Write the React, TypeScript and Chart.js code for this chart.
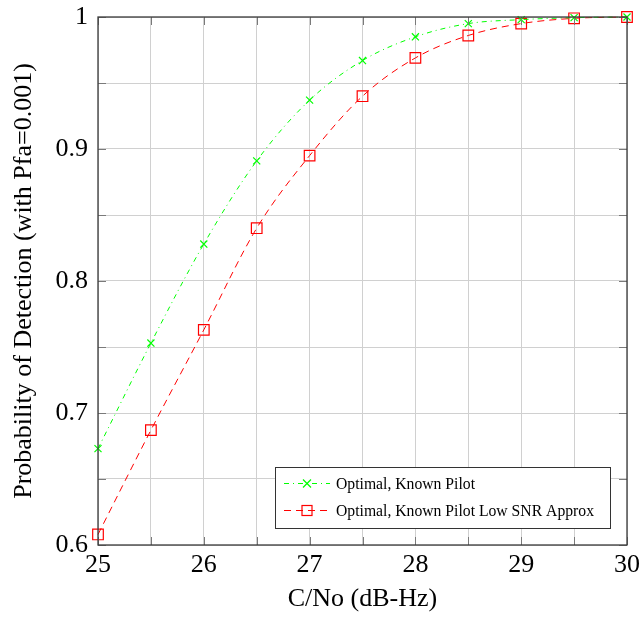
import React, { useEffect, useRef } from "react";
import { Chart, registerables } from "chart.js";

Chart.register(...registerables);

const cnoValues = [25, 25.5, 26, 26.5, 27, 27.5, 28, 28.5, 29, 29.5, 30];
const knownPilot = [0.673, 0.753, 0.828, 0.891, 0.937, 0.967, 0.985, 0.995, 0.998, 0.9995, 1.0];
const lowSnrApprox = [0.608, 0.687, 0.763, 0.840, 0.895, 0.940, 0.969, 0.986, 0.995, 0.999, 1.0];
const seriesLabels = ["Optimal, Known Pilot", "Optimal, Known Pilot Low SNR Approx"];
const xTitle = "C/No (dB-Hz)";
const yTitle = "Probability of Detection (with Pfa=0.001)";

const FONT = "'Liberation Serif', 'DejaVu Serif', serif";
const GREEN = "#00ff00";
const RED = "#ff0000";
const GREEN_DASH = [5, 4, 1, 4];
const RED_DASH = [7, 5];

const framePlugin = {
  id: "frameAndLegend",
  afterDraw(chart: any) {
    const { ctx, chartArea } = chart;
    const { left, right, top, bottom } = chartArea;
    const xs = chart.scales.x;
    const ys = chart.scales.y;
    ctx.save();
    // inward ticks
    ctx.strokeStyle = "#7a7a7a";
    ctx.lineWidth = 1;
    ctx.beginPath();
    for (let v = 25; v <= 30.001; v += 0.5) {
      const px = Math.round(xs.getPixelForValue(v)) + 0.5;
      ctx.moveTo(px, bottom);
      ctx.lineTo(px, bottom - 8);
      ctx.moveTo(px, top);
      ctx.lineTo(px, top + 8);
    }
    for (let v = 0.6; v <= 1.0001; v += 0.05) {
      const py = Math.round(ys.getPixelForValue(v)) + 0.5;
      ctx.moveTo(left, py);
      ctx.lineTo(left + 8, py);
      ctx.moveTo(right, py);
      ctx.lineTo(right - 8, py);
    }
    ctx.stroke();
    // frame
    ctx.strokeStyle = "#3a3a3a";
    ctx.lineWidth = 1.3;
    ctx.strokeRect(left, top, right - left, bottom - top);

    // legend
    const bx = 275, by = 467, bw = 335, bh = 61;
    ctx.fillStyle = "#ffffff";
    ctx.fillRect(bx, by, bw, bh);
    ctx.strokeStyle = "#333333";
    ctx.lineWidth = 1;
    ctx.strokeRect(bx + 0.5, by + 0.5, bw, bh);
    const rows = [
      { y: 483.5, color: GREEN, dash: GREEN_DASH, marker: "x", label: seriesLabels[0] },
      { y: 510.5, color: RED, dash: RED_DASH, marker: "sq", label: seriesLabels[1] },
    ];
    ctx.font = `15.7px ${FONT}`;
    ctx.textBaseline = "middle";
    for (const r of rows) {
      ctx.strokeStyle = r.color;
      ctx.lineWidth = 1;
      ctx.setLineDash(r.dash);
      ctx.beginPath();
      ctx.moveTo(284, r.y);
      ctx.lineTo(330, r.y);
      ctx.stroke();
      ctx.setLineDash([]);
      ctx.lineWidth = 1.2;
      ctx.beginPath();
      const mx = 307;
      if (r.marker === "x") {
        ctx.moveTo(mx - 4, r.y - 4);
        ctx.lineTo(mx + 4, r.y + 4);
        ctx.moveTo(mx - 4, r.y + 4);
        ctx.lineTo(mx + 4, r.y - 4);
        ctx.stroke();
      } else {
        ctx.strokeRect(mx - 5, r.y - 5, 10, 10);
      }
      ctx.fillStyle = "#000000";
      ctx.fillText(r.label, 336, r.y + 1);
    }
    ctx.restore();
  },
};

export default function App() {
  const ref = useRef<HTMLCanvasElement>(null);
  useEffect(() => {
    if (!ref.current) return;
    const chart = new Chart(ref.current, {
      type: "line",
      data: {
        datasets: [
          {
            label: seriesLabels[0],
            data: cnoValues.map((x, i) => ({ x, y: knownPilot[i] })),
            borderColor: GREEN,
            backgroundColor: "transparent",
            borderWidth: 1,
            borderDash: GREEN_DASH,
            pointStyle: "crossRot",
            pointRadius: 5,
            pointBorderWidth: 1.2,
            pointBorderColor: GREEN,
            cubicInterpolationMode: "monotone",
            clip: false as any,
          },
          {
            label: seriesLabels[1],
            data: cnoValues.map((x, i) => ({ x, y: lowSnrApprox[i] })),
            borderColor: RED,
            backgroundColor: "transparent",
            borderWidth: 1,
            borderDash: RED_DASH,
            pointStyle: "rect",
            pointRadius: 7.5,
            pointBorderWidth: 1.2,
            pointBorderColor: RED,
            pointBackgroundColor: "transparent",
            cubicInterpolationMode: "monotone",
            clip: false as any,
          },
        ],
      },
      options: {
        responsive: false,
        animation: false,
        layout: { padding: { left: 0, right: 15, top: 17, bottom: 0 } },
        plugins: { legend: { display: false }, tooltip: { enabled: false } },
        scales: {
          x: {
            type: "linear",
            min: 25,
            max: 30,
            afterFit: (s: any) => {
              s.height = 72;
              s.paddingLeft = 0;
              s.paddingRight = 0;
            },
            grid: { color: "#d0d0d0", lineWidth: 1, drawTicks: false },
            border: { display: false },
            ticks: {
              stepSize: 0.5,
              padding: 5,
              color: "#000",
              font: { family: FONT, size: 26 },
              autoSkip: false,
              maxRotation: 0,
              callback: (v: any) => (Math.abs(v - Math.round(v)) < 1e-6 ? String(Math.round(v)) : ""),
            },
            title: {
              display: true,
              text: xTitle,
              color: "#000",
              font: { family: FONT, size: 26 },
              padding: { top: 0, bottom: 2 },
            },
          },
          y: {
            type: "linear",
            min: 0.6,
            max: 1,
            afterFit: (s: any) => {
              s.width = 98;
              s.paddingTop = 0;
              s.paddingBottom = 0;
            },
            grid: { color: "#d0d0d0", lineWidth: 1, drawTicks: false },
            border: { display: false },
            ticks: {
              stepSize: 0.05,
              padding: 10,
              color: "#000",
              font: { family: FONT, size: 26 },
              autoSkip: false,
              callback: (v: any) => {
                const t = v * 10;
                if (Math.abs(t - Math.round(t)) > 1e-6) return "";
                const r = Math.round(t) / 10;
                return r === 1 ? "1" : r.toFixed(1);
              },
            },
            title: {
              display: true,
              text: yTitle,
              color: "#000",
              font: { family: FONT, size: 26 },
              padding: { top: 9, bottom: 0 },
            },
          },
        },
      },
      plugins: [framePlugin],
    } as any);
    return () => chart.destroy();
  }, []);
  return (
    <div style={{ position: "absolute", left: 0, top: 0, width: 642, height: 617, background: "#fff" }}>
      <canvas ref={ref} width={642} height={617} style={{ display: "block", width: 642, height: 617 }} />
    </div>
  );
}
